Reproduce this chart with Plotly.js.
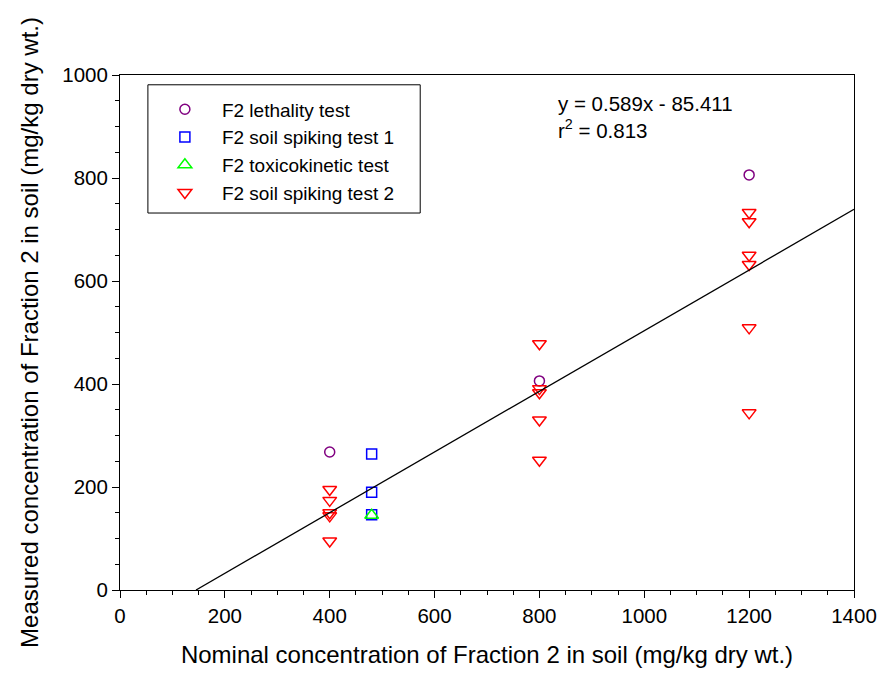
<!DOCTYPE html>
<html>
<head>
<meta charset="utf-8">
<script src="https://cdn.plot.ly/plotly-3.0.1.min.js"></script>
<style>
  html, body { margin: 0; padding: 0; background: #fff; }
  #chart { width: 879px; height: 674px; }
</style>
</head>
<body>
<div id="chart"></div>
<script>
// Nominal vs measured concentration of Fraction 2 in soil (mg/kg dry wt.)
const lethalityX = [400, 800, 1200];
const lethalityY = [268, 406, 806];

const spiking1X = [480, 480, 480];
const spiking1Y = [264, 190, 146];

const toxicoX = [480];
const toxicoY = [145];

const spiking2X = [400, 400, 400, 400, 400,
                   800, 800, 800, 800, 800,
                   1200, 1200, 1200, 1200, 1200, 1200];
const spiking2Y = [195, 174, 150, 144, 95,
                   478, 391, 383, 330, 252,
                   733, 715, 650, 632, 509, 344];

// Regression line y = slope * x + intercept
const slope = 0.589;
const intercept = -85.411;
const rSquared = 0.813;
const xMax = 1400;

const fitX = [-intercept / slope, xMax];
const fitY = fitX.map(x => slope * x + intercept);

const fontFamily = 'Arial, "Liberation Sans", Helvetica, sans-serif';

const traces = [
  {
    x: lethalityX, y: lethalityY, mode: 'markers', type: 'scatter',
    name: 'F2 lethality test',
    marker: { symbol: 'circle-open', size: 10, color: '#800080', line: { width: 1.5, color: '#800080' } }
  },
  {
    x: spiking1X, y: spiking1Y, mode: 'markers', type: 'scatter',
    name: 'F2 soil spiking test 1',
    marker: { symbol: 'square-open', size: 10, color: '#0000ff', line: { width: 1.5, color: '#0000ff' } }
  },
  {
    x: toxicoX, y: toxicoY, mode: 'markers', type: 'scatter',
    name: 'F2 toxicokinetic test',
    marker: { symbol: 'triangle-up-open', size: 12, color: '#00ff00', line: { width: 1.5, color: '#00ff00' } }
  },
  {
    x: spiking2X, y: spiking2Y, mode: 'markers', type: 'scatter',
    name: 'F2 soil spiking test 2',
    marker: { symbol: 'triangle-down-open', size: 12, color: '#ff0000', line: { width: 1.5, color: '#ff0000' } }
  },
  {
    x: fitX, y: fitY, mode: 'lines', type: 'scatter',
    showlegend: false, hoverinfo: 'skip',
    line: { color: '#000', width: 1.3 }
  }
];

const axisCommon = {
  showgrid: false,
  zeroline: false,
  showline: true,
  mirror: true,
  linecolor: '#000',
  linewidth: 1,
  ticks: 'outside',
  ticklen: 7,
  tickwidth: 1,
  tickcolor: '#000',
  tickfont: { family: fontFamily, size: 20.5, color: '#000' }
};

const layout = {
  width: 879,
  height: 674,
  margin: { l: 120, r: 25, t: 75, b: 84 },
  paper_bgcolor: '#fff',
  plot_bgcolor: '#fff',
  font: { family: fontFamily, color: '#000' },
  showlegend: true,
  xaxis: Object.assign({}, axisCommon, {
    range: [0, 1400],
    dtick: 200,
    tick0: 0,
    minor: { dtick: 50, ticks: 'outside', ticklen: 4, tickcolor: '#000', showgrid: false },
    title: { text: 'Nominal concentration of Fraction 2 in soil (mg/kg dry wt.)',
             font: { family: fontFamily, size: 24, color: '#000' }, standoff: 20 }
  }),
  yaxis: Object.assign({}, axisCommon, {
    range: [0, 1000],
    dtick: 200,
    tick0: 0,
    minor: { dtick: 50, ticks: 'outside', ticklen: 4, tickcolor: '#000', showgrid: false },
    title: { text: 'Measured concentration of Fraction 2 in soil (mg/kg dry wt.)',
             font: { family: fontFamily, size: 24, color: '#000' }, standoff: 16 }
  }),
  legend: {
    x: 0.038, y: 0.97, xanchor: 'left', yanchor: 'top',
    bgcolor: 'rgba(0,0,0,0)',
    borderwidth: 0,
    itemwidth: 64,
    font: { family: fontFamily, size: 19, color: '#000' },
    tracegroupgap: 0
  },
  shapes: [
    // frame around the legend
    { type: 'rect', xref: 'paper', yref: 'paper',
      x0: 0.038, x1: 0.409, y0: 0.732, y1: 0.981,
      line: { color: '#000', width: 1 }, fillcolor: 'rgba(0,0,0,0)' }
  ],
  annotations: [
    {
      xref: 'paper', yref: 'paper', x: 0.594, y: 0.97,
      xanchor: 'left', yanchor: 'top', align: 'left', showarrow: false,
      text: 'y = ' + slope + 'x - ' + Math.abs(intercept) + '<br>r<sup>2</sup> = ' + rSquared,
      font: { family: fontFamily, size: 20.5, color: '#000' }
    }
  ]
};

Plotly.newPlot('chart', traces, layout, { displayModeBar: false, staticPlot: true });
</script>
</body>
</html>
